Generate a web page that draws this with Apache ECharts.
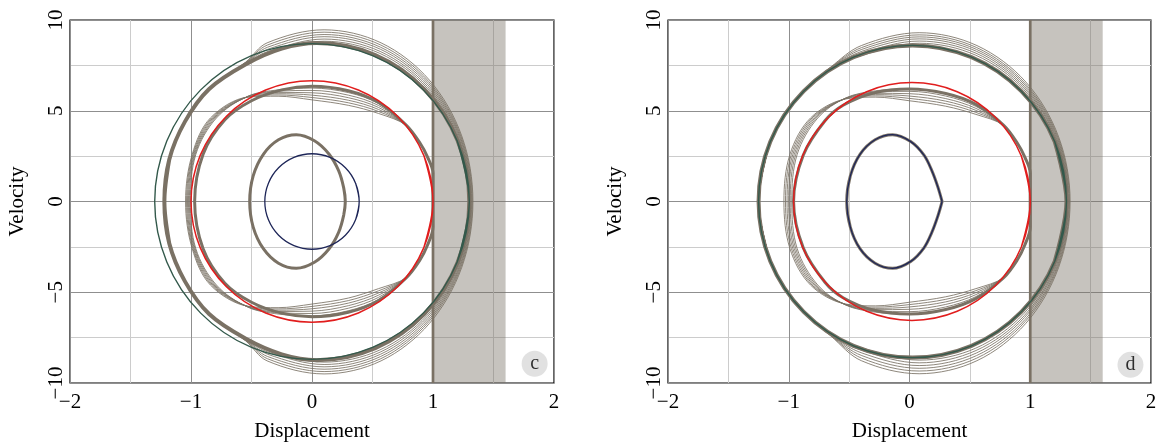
<!DOCTYPE html>
<html><head><meta charset="utf-8">
<script src="https://cdn.jsdelivr.net/npm/echarts@6/dist/echarts.min.js"></script>
<style>html,body{margin:0;padding:0;background:#fff}#chart{width:1161px;height:448px}</style>
</head><body><div id="chart"></div>
<script>
// ---------- tick labels / titles ----------
const xTicks = ['\u22122', '\u22121', '0', '1', '2'];
const yTicks = ['\u221210', '\u22125', '0', '5', '10'];
const xTitle = 'Displacement';
const yTitle = 'Velocity';
const panelTags = ['c', 'd'];
const wallX = 1;
const shadeRange = [1, 1.6];

// ---------- panel c ----------
const greenC = [[1.3,0],[1.2,3.33],[0.92,6.15],[0.5,8.04],[0,8.7],[-0.5,8.04],[-0.92,6.15],[-1.2,3.33],[-1.3,0],[-1.2,-3.33],[-0.92,-6.15],[-0.5,-8.04],[0,-8.7],[0.5,-8.04],[0.92,-6.15],[1.2,-3.33],[1.3,0]];
const redC = [[1,0],[0.924,2.54],[0.707,4.7],[0.383,6.14],[0,6.65],[-0.383,6.14],[-0.707,4.7],[-0.924,2.54],[-1,0],[-0.924,-2.54],[-0.707,-4.7],[-0.383,-6.14],[0,-6.65],[0.383,-6.14],[0.707,-4.7],[0.924,-2.54],[1,0]];
const navyC = [[0.39,0],[0.36,1.01],[0.276,1.86],[0.149,2.43],[0,2.63],[-0.149,2.43],[-0.276,1.86],[-0.36,1.01],[-0.39,0],[-0.36,-1.01],[-0.276,-1.86],[-0.149,-2.43],[0,-2.63],[0.149,-2.43],[0.276,-1.86],[0.36,-1.01],[0.39,0]];
const eggC = [[0.275,0],[0.262,0.75],[0.22,1.7],[0.14,2.62],[0.02,3.35],[-0.13,3.68],[-0.277,3.40],[-0.402,2.60],[-0.486,1.41],[-0.515,0],[-0.486,-1.41],[-0.402,-2.60],[-0.277,-3.40],[-0.13,-3.68],[0.02,-3.35],[0.14,-2.62],[0.22,-1.7],[0.262,-0.75],[0.275,0]];

// outer bundle (first row = dense band)
const outerLeftUpperC = [[-0.85,6.2],[-1.05,4.4],[-1.18,2.3],[-1.22,0]];
const outerLeftLowerC = [[-1.22,0],[-1.18,-2.3],[-1.05,-4.4],[-0.85,-6.2]];
const outerUpperC = [
  [[1.30,0],[1.204,3.34],[0.931,6.17],[0.523,8.07],[0.04,8.73],[-0.25,8.42],[-0.55,7.55]],
  [[1.305,0],[1.213,3.38],[0.952,6.24],[0.561,8.16],[0.1,8.83],[-0.362,8.16],[-0.55,7.57]],
  [[1.31,0],[1.218,3.43],[0.955,6.33],[0.563,8.27],[0.1,8.95],[-0.363,8.27],[-0.55,7.59]],
  [[1.315,0],[1.223,3.48],[0.959,6.42],[0.565,8.39],[0.1,9.08],[-0.365,8.39],[-0.55,7.61]],
  [[1.32,0],[1.227,3.53],[0.963,6.51],[0.567,8.50],[0.1,9.20],[-0.367,8.50],[-0.55,7.63]],
  [[1.325,0],[1.232,3.57],[0.966,6.60],[0.569,8.62],[0.1,9.33],[-0.369,8.62],[-0.55,7.65]],
  [[1.33,0],[1.237,3.62],[0.970,6.69],[0.571,8.74],[0.1,9.46],[-0.371,8.74],[-0.55,7.67]]
];
const outerLowerC = [
  [[-0.55,-7.55],[-0.25,-8.42],[0.04,-8.74],[0.523,-8.08],[0.931,-6.18],[1.204,-3.35]],
  [[-0.55,-7.57],[-0.362,-8.18],[0.1,-8.85],[0.561,-8.18],[0.952,-6.26],[1.213,-3.39]],
  [[-0.55,-7.59],[-0.363,-8.30],[0.1,-8.98],[0.563,-8.30],[0.955,-6.35],[1.218,-3.44]],
  [[-0.55,-7.61],[-0.365,-8.42],[0.1,-9.11],[0.565,-8.42],[0.959,-6.44],[1.223,-3.49]],
  [[-0.55,-7.63],[-0.367,-8.54],[0.1,-9.24],[0.567,-8.54],[0.963,-6.53],[1.227,-3.54]],
  [[-0.55,-7.65],[-0.369,-8.66],[0.1,-9.37],[0.569,-8.66],[0.966,-6.62],[1.232,-3.59]],
  [[-0.55,-7.67],[-0.371,-8.78],[0.1,-9.50],[0.571,-8.78],[0.970,-6.72],[1.237,-3.64]]
];

// middle bundle (first row = dense band)
const midRightTopC = [[1.0,0],[1.0,1.55],[0.955,2.45],[0.89,3.25],[0.78,4.2]];
const midRightBotC = [[0.78,-4.2],[0.89,-3.25],[0.955,-2.4],[1.0,-1.4],[1.0,0]];
const midUpperC = [
  [[0.55,5.45],[0.3,6.1],[0,6.35],[-0.25,6.15],[-0.5,5.55],[-0.72,4.5],[-0.9,2.6],[-0.97,0]],
  [[0.55,5.4],[0.3,6.0],[0,6.25],[-0.28,6.15],[-0.53,5.80],[-0.79,4.6],[-0.96,2.6],[-1.005,0]],
  [[0.55,5.29],[0.3,5.86],[0,6.12],[-0.28,6.08],[-0.53,5.79],[-0.80,4.6],[-0.966,2.6],[-1.013,0]],
  [[0.55,5.18],[0.3,5.72],[0,5.99],[-0.28,6.01],[-0.53,5.78],[-0.81,4.6],[-0.972,2.6],[-1.021,0]],
  [[0.55,5.07],[0.3,5.58],[0,5.86],[-0.28,5.94],[-0.53,5.77],[-0.82,4.6],[-0.978,2.6],[-1.029,0]],
  [[0.55,4.96],[0.3,5.44],[0,5.73],[-0.28,5.87],[-0.53,5.76],[-0.83,4.6],[-0.984,2.6],[-1.037,0]],
  [[0.55,4.85],[0.3,5.30],[0,5.60],[-0.28,5.80],[-0.53,5.75],[-0.84,4.6],[-0.99,2.6],[-1.045,0]]
];
const midLowerC = [
  [[-0.9,-2.6],[-0.72,-4.5],[-0.5,-5.55],[-0.25,-6.15],[0,-6.35],[0.3,-6.1],[0.55,-5.45]],
  [[-0.96,-2.6],[-0.79,-4.6],[-0.53,-5.82],[-0.28,-6.2],[0,-6.3],[0.3,-6.02],[0.55,-5.4]],
  [[-0.966,-2.6],[-0.80,-4.6],[-0.53,-5.81],[-0.28,-6.13],[0,-6.17],[0.3,-5.88],[0.55,-5.28]],
  [[-0.972,-2.6],[-0.81,-4.6],[-0.53,-5.80],[-0.28,-6.06],[0,-6.04],[0.3,-5.74],[0.55,-5.16]],
  [[-0.978,-2.6],[-0.82,-4.6],[-0.53,-5.79],[-0.28,-5.99],[0,-5.91],[0.3,-5.6],[0.55,-5.04]],
  [[-0.984,-2.6],[-0.83,-4.6],[-0.53,-5.78],[-0.28,-5.92],[0,-5.78],[0.3,-5.46],[0.55,-4.92]],
  [[-0.99,-2.6],[-0.84,-4.6],[-0.53,-5.77],[-0.28,-5.85],[0,-5.65],[0.3,-5.32],[0.55,-4.8]]
];

// ---------- panel d ----------
const greenD = [[1.3,0],[1.203,3.29],[0.926,6.08],[0.513,7.95],[0.025,8.6],[-0.463,7.95],[-0.876,6.08],[-1.153,3.29],[-1.25,0],[-1.153,-3.29],[-0.876,-6.08],[-0.463,-7.95],[0.025,-8.6],[0.513,-7.95],[0.926,-6.08],[1.203,-3.29],[1.3,0]];
const redD = [[1.0,0],[0.926,2.51],[0.713,4.63],[0.395,6.05],[0.02,6.55],[-0.355,6.05],[-0.673,4.63],[-0.886,2.51],[-0.96,0],[-0.886,-2.51],[-0.673,-4.63],[-0.355,-6.05],[0.02,-6.55],[0.395,-6.05],[0.713,-4.63],[0.926,-2.51],[1.0,0]];
const eggD = [[0.27,0],[0.235,0.8],[0.185,1.7],[0.12,2.55],[0.01,3.3],[-0.14,3.68],[-0.285,3.4],[-0.41,2.6],[-0.49,1.41],[-0.52,0],[-0.49,-1.41],[-0.41,-2.6],[-0.285,-3.4],[-0.14,-3.68],[0.01,-3.3],[0.12,-2.55],[0.185,-1.7],[0.235,-0.8],[0.27,0]];

const outerLeftUpperD = [[-0.876,6.08],[-1.153,3.29],[-1.25,0]];
const outerLeftLowerD = [[-1.25,0],[-1.153,-3.29],[-0.876,-6.08]];
const outerUpperD = [
  [[1.305,0],[1.212,3.34],[0.946,6.17],[0.549,8.06],[0.08,8.72],[-0.389,8.06],[-0.65,7.32]],
  [[1.31,0],[1.217,3.39],[0.950,6.25],[0.551,8.17],[0.08,8.84],[-0.391,8.17],[-0.65,7.34]],
  [[1.315,0],[1.221,3.43],[0.953,6.33],[0.553,8.28],[0.08,8.96],[-0.393,8.28],[-0.65,7.36]],
  [[1.32,0],[1.226,3.47],[0.957,6.41],[0.555,8.38],[0.08,9.07],[-0.395,8.38],[-0.65,7.38]],
  [[1.325,0],[1.230,3.52],[0.960,6.49],[0.557,8.48],[0.08,9.18],[-0.397,8.48],[-0.65,7.40]],
  [[1.33,0],[1.235,3.56],[0.964,6.58],[0.559,8.59],[0.08,9.30],[-0.399,8.59],[-0.65,7.42]]
];
const outerLowerD = [
  [[-0.65,-7.32],[-0.389,-8.08],[0.08,-8.74],[0.549,-8.08],[0.946,-6.18],[1.212,-3.35]],
  [[-0.65,-7.34],[-0.391,-8.21],[0.08,-8.89],[0.551,-8.21],[0.950,-6.29],[1.217,-3.40]],
  [[-0.65,-7.36],[-0.393,-8.35],[0.08,-9.04],[0.553,-8.35],[0.953,-6.39],[1.221,-3.46]],
  [[-0.65,-7.38],[-0.395,-8.49],[0.08,-9.19],[0.555,-8.49],[0.957,-6.50],[1.226,-3.52]],
  [[-0.65,-7.40],[-0.397,-8.63],[0.08,-9.34],[0.557,-8.63],[0.960,-6.60],[1.230,-3.58]],
  [[-0.65,-7.42],[-0.399,-8.77],[0.08,-9.49],[0.559,-8.77],[0.964,-6.71],[1.235,-3.63]]
];

const midRightTopD = [[1.0,0],[1.0,1.55],[0.955,2.45],[0.89,3.25],[0.78,4.2]];
const midRightBotD = [[0.78,-4.2],[0.89,-3.25],[0.955,-2.4],[1.0,-1.4],[1.0,0]];
const midUpperD = [
  [[0.55,5.35],[0.3,5.95],[0,6.2],[-0.3,5.98],[-0.55,5.3],[-0.7,4.45],[-0.88,2.55],[-0.96,0]],
  [[0.55,5.35],[0.3,5.95],[0,6.2],[-0.28,6.1],[-0.53,5.7],[-0.76,4.6],[-0.93,2.6],[-0.975,0]],
  [[0.55,5.24],[0.3,5.81],[0,6.07],[-0.28,6.03],[-0.53,5.69],[-0.772,4.6],[-0.942,2.6],[-0.988,0]],
  [[0.55,5.13],[0.3,5.67],[0,5.94],[-0.28,5.96],[-0.53,5.68],[-0.784,4.6],[-0.954,2.6],[-1.001,0]],
  [[0.55,5.02],[0.3,5.53],[0,5.81],[-0.28,5.89],[-0.53,5.67],[-0.796,4.6],[-0.966,2.6],[-1.014,0]],
  [[0.55,4.91],[0.3,5.39],[0,5.68],[-0.28,5.82],[-0.53,5.66],[-0.808,4.6],[-0.978,2.6],[-1.027,0]],
  [[0.55,4.8],[0.3,5.25],[0,5.55],[-0.28,5.75],[-0.53,5.65],[-0.82,4.6],[-0.99,2.6],[-1.04,0]]
];
const midLowerD = [
  [[-0.88,-2.55],[-0.7,-4.45],[-0.55,-5.3],[-0.3,-5.98],[0,-6.2],[0.3,-5.95],[0.55,-5.35]],
  [[-0.93,-2.6],[-0.76,-4.6],[-0.53,-5.7],[-0.28,-6.1],[0,-6.2],[0.3,-5.95],[0.55,-5.35]],
  [[-0.942,-2.6],[-0.772,-4.6],[-0.53,-5.69],[-0.28,-6.03],[0,-6.07],[0.3,-5.81],[0.55,-5.24]],
  [[-0.954,-2.6],[-0.784,-4.6],[-0.53,-5.68],[-0.28,-5.96],[0,-5.94],[0.3,-5.67],[0.55,-5.13]],
  [[-0.966,-2.6],[-0.796,-4.6],[-0.53,-5.67],[-0.28,-5.89],[0,-5.81],[0.3,-5.53],[0.55,-5.02]],
  [[-0.978,-2.6],[-0.808,-4.6],[-0.53,-5.66],[-0.28,-5.82],[0,-5.68],[0.3,-5.39],[0.55,-4.91]],
  [[-0.99,-2.6],[-0.82,-4.6],[-0.53,-5.65],[-0.28,-5.75],[0,-5.55],[0.3,-5.25],[0.55,-4.8]]
];

// ---------- styling ----------
const BROWN = '#7a7164', GREEN = '#33594b', RED = '#e11d1d', NAVY = '#1e2658';
const FONT = 'Liberation Serif';
const FS = 21;
const SM = 0.34;

// closed loop: repeat neighbours of the seam so the smoothing is tangent-continuous there
function closed(pts) { return [pts[pts.length - 2]].concat(pts, [pts[1]]); }
function curve(g, pts, color, width) {
  return { type: 'line', xAxisIndex: g, yAxisIndex: g, data: pts, symbol: 'none', showSymbol: false,
    smooth: SM, lineStyle: { color: color, width: width, join: 'round' }, silent: true, animation: false };
}

function panelSeries(g, P) {
  const s = [];
  s.push({ type: 'line', xAxisIndex: g, yAxisIndex: g, data: [[wallX, -10], [wallX, 10]], symbol: 'none',
    lineStyle: { color: BROWN, width: 2.7 }, silent: true, animation: false,
    markArea: { silent: true, itemStyle: { color: 'rgba(120,112,100,0.42)' },
      data: [[{ xAxis: shadeRange[0], yAxis: -10 }, { xAxis: shadeRange[1], yAxis: 10 }]] } });
  P.outerUpper.forEach((u, i) => {
    const pts = P.outerLeftLower.concat(P.outerLower[i], u, P.outerLeftUpper);
    s.push(curve(g, closed(pts), BROWN, (P.outerBand === null && i === 0) ? 4 : 0.85));
  });
  if (P.outerBand) s.push(curve(g, closed(P.outerBand), BROWN, 4));
  P.midUpper.forEach((u, i) => {
    const pts = P.midTop.concat(u, P.midLower[i], P.midBot);
    s.push(curve(g, closed(pts), BROWN, i === 0 ? 3 : 0.85));
  });
  s.push(curve(g, P.eggClosed ? closed(P.egg) : P.egg, BROWN, 3));
  s.push(curve(g, closed(P.green), GREEN, 1.4));
  s.push(curve(g, closed(P.red), RED, 1.5));
  s.push(curve(g, P.eggClosed ? closed(P.navy) : P.navy, NAVY, 1.3));
  return s;
}

const series = [].concat(
  panelSeries(0, { outerUpper: outerUpperC, outerLower: outerLowerC, outerLeftUpper: outerLeftUpperC, outerLeftLower: outerLeftLowerC, outerBand: null,
    midTop: midRightTopC, midBot: midRightBotC, midUpper: midUpperC, midLower: midLowerC,
    egg: eggC, eggClosed: true, green: greenC, red: redC, navy: navyC }),
  panelSeries(1, { outerUpper: outerUpperD, outerLower: outerLowerD, outerLeftUpper: outerLeftUpperD, outerLeftLower: outerLeftLowerD, outerBand: greenD,
    midTop: midRightTopD, midBot: midRightBotD, midUpper: midUpperD, midLower: midLowerD,
    egg: eggD, eggClosed: false, green: greenD, red: redD, navy: eggD })
);
[[0, 1.84, -8.94], [1, 1.83, -9.0]].forEach((t, i) => {
  series.push({ type: 'scatter', xAxisIndex: t[0], yAxisIndex: t[0], data: [[t[1], t[2]]], symbol: 'circle',
    symbolSize: 26, itemStyle: { color: '#dadada' }, silent: true, animation: false, z: 5,
    label: { show: true, position: 'inside', formatter: panelTags[i], color: '#000', fontSize: 20, fontFamily: FONT } });
});

function xAxis(g) {
  return { type: 'value', gridIndex: g, min: -2, max: 2, interval: 1,
    name: xTitle, nameLocation: 'middle', nameGap: 38, nameTextStyle: { fontSize: FS, color: '#000', fontFamily: FONT },
    axisLine: { show: false }, axisTick: { show: false },
    axisLabel: { color: '#000', fontSize: FS, fontFamily: FONT, margin: 9, formatter: (v, i) => xTicks[i] },
    splitLine: { show: true, lineStyle: { color: '#8f8f8f', width: 1 } },
    minorTick: { show: false, splitNumber: 2 },
    minorSplitLine: { show: true, lineStyle: { color: '#cccccc', width: 1 } } };
}
function yAxis(g) {
  return { type: 'value', gridIndex: g, min: -10, max: 10, interval: 5,
    name: yTitle, nameLocation: 'middle', nameRotate: 90, nameGap: 42, nameTextStyle: { fontSize: FS, color: '#000', fontFamily: FONT },
    axisLine: { show: false }, axisTick: { show: false },
    axisLabel: { color: '#000', fontSize: FS, fontFamily: FONT, margin: 3, rotate: 90, formatter: (v, i) => yTicks[i] },
    splitLine: { show: true, lineStyle: { color: '#8f8f8f', width: 1 } },
    minorTick: { show: false, splitNumber: 2 },
    minorSplitLine: { show: true, lineStyle: { color: '#cccccc', width: 1 } } };
}

const chart = echarts.init(document.getElementById('chart'), null, { renderer: 'canvas' });
chart.setOption({
  animation: false,
  textStyle: { fontFamily: FONT },
  grid: [
    { left: 70, top: 20, width: 484, height: 363, show: true, borderColor: '#000', borderWidth: 1.2, backgroundColor: 'transparent' },
    { left: 668, top: 20, width: 483, height: 363, show: true, borderColor: '#000', borderWidth: 1.2, backgroundColor: 'transparent' }
  ],
  xAxis: [xAxis(0), xAxis(1)],
  yAxis: [yAxis(0), yAxis(1)],
  series: series
});
</script></body></html>
